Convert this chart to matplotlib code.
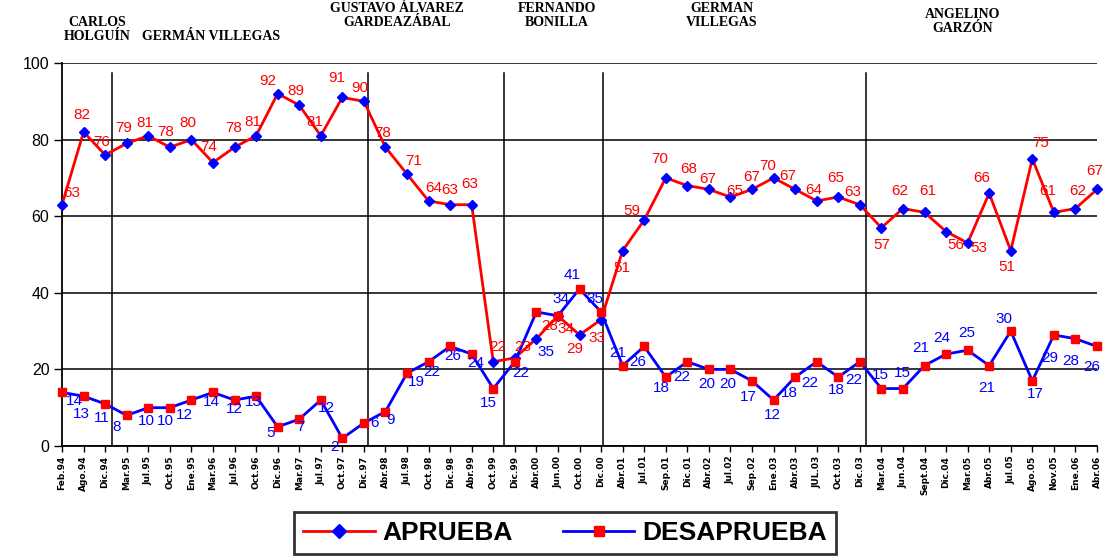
import numpy as np
import matplotlib
matplotlib.use("Agg")
import matplotlib.pyplot as plt
from matplotlib.lines import Line2D

# fechas de las encuestas
fechas = ["Feb.94", "Ago.94", "Dic.94", "Mar.95", "Jul.95", "Oct.95", "Ene.95",
          "Mar.96", "Jul.96", "Oct.96", "Dic.96", "Mar.97", "Jul.97", "Oct.97",
          "Dic.97", "Abr.98", "Jul.98", "Oct.98", "Dic.98", "Abr.99", "Oct.99",
          "Dic.99", "Abr.00", "Jun.00", "Oct.00", "Dic.00", "Abr.01", "Jul.01",
          "Sep.01", "Dic.01", "Abr.02", "Jul.02", "Sep.02", "Ene.03", "Abr.03",
          "JUL.03", "Oct.03", "Dic.03", "Mar.04", "Jun.04", "Sept.04", "Dic.04",
          "Mar.05", "Abr.05", "Jul.05", "Ago.05", "Nov.05", "Ene.06", "Abr.06"]

aprueba = [63, 82, 76, 79, 81, 78, 80, 74, 78, 81, 92, 89, 81, 91, 90,
           78, 71, 64, 63, 63, 22, 23, 28, 34, 29, 33, 51, 59, 70, 68,
           67, 65, 67, 70, 67, 64, 65, 63, 57, 62, 61, 56, 53, 66, 51,
           75, 61, 62, 67]

desaprueba = [14, 13, 11, 8, 10, 10, 12, 14, 12, 13, 5, 7, 12, 2, 6,
              9, 19, 22, 26, 24, 15, 22, 35, 34, 41, 35, 21, 26, 18, 22,
              20, 20, 17, 12, 18, 22, 18, 22, 15, 15, 21, 24, 25, 21, 30,
              17, 29, 28, 26]

# alcaldes y donde empieza cada periodo (posicion entre fechas)
alcaldes = ["CARLOS\nHOLGUÍN", "GERMÁN VILLEGAS", "GUSTAVO ÁLVAREZ\nGARDEAZÁBAL",
            "FERNANDO\nBONILLA", "GERMAN\nVILLEGAS", "ANGELINO\nGARZÓN"]
cortes = [2.33, 14.2, 20.5, 25.1, 37.3]

# desplazamiento de las etiquetas en pixeles (dx, dy hacia abajo)
off_apr = [(10, -12), (-2, -17), (-3, -13), (-3, -15), (-3, -13), (-4, -15), (-4, -17),
           (-4, -16), (-1, -19), (-3, -14), (-10, -13), (-3, -14), (-6, -14), (-6, -19),
           (-4, -13), (-3, -14), (7, -13), (5, -13), (0, -15), (-2, -21), (5, -15),
           (8, -11), (13, -13), (8, 13), (-5, 14), (-4, 18), (-1, 17), (-12, -9),
           (-6, -19), (1, -17), (-1, -10), (4, -6), (0, -12), (-6, -12), (-7, -13),
           (-3, -11), (-3, -19), (-7, -13), (0, 17), (-3, -18), (3, -21), (10, 13),
           (11, 5), (-7, -15), (-4, 16), (8, -16), (-6, -21), (2, -18), (-2, -18)]
off_des = [(12, 9), (-2, 18), (-3, 14), (-10, 12), (-2, 13), (-4, 13), (-7, 15),
           (-2, 10), (0, 9), (-3, 6), (-7, 6), (1, 8), (6, 8), (-8, 9), (11, 0),
           (5, 8), (9, 9), (3, 10), (3, 10), (4, 9), (-5, 14), (6, 11), (10, 40),
           (3, -17), (-7, -14), (-6, -13), (-5, -13), (-6, 16), (-4, 11), (-6, 15),
           (-2, 15), (-3, 15), (-4, 16), (-1, 15), (-6, 16), (-7, 21), (-2, 13),
           (-6, 18), (-1, -14), (-1, -16), (-4, -18), (-4, -16), (-1, -17), (-2, 22),
           (-7, -12), (3, 13), (-4, 23), (-5, 22), (-5, 21)]

RED = "#ff0000"
BLUE = "#0000ff"

fig = plt.figure(figsize=(11.07, 5.6), dpi=100)
ax = fig.add_axes([62 / 1107, 114 / 560, 1035 / 1107, 383 / 560])

x = np.arange(len(fechas))

ax.plot(x, aprueba, color=RED, lw=2, marker="D", ms=5.5, mfc=BLUE, mec=BLUE,
        clip_on=False, zorder=4)
ax.plot(x, desaprueba, color=BLUE, lw=2, marker="s", ms=5.5, mfc=RED, mec=RED,
        clip_on=False, zorder=5)

for i in range(len(x)):
    dx, dy = off_apr[i]
    ax.annotate(str(aprueba[i]), (x[i], aprueba[i]), xytext=(dx, -dy),
                textcoords="offset pixels", ha="center", va="center",
                color=RED, fontsize=11, family="Liberation Sans", zorder=6,
                annotation_clip=False)
    dx, dy = off_des[i]
    ax.annotate(str(desaprueba[i]), (x[i], desaprueba[i]), xytext=(dx, -dy),
                textcoords="offset pixels", ha="center", va="center",
                color=BLUE, fontsize=11, family="Liberation Sans", zorder=6,
                annotation_clip=False)

for c in cortes:
    ax.plot([c, c], [0, 97.5], color="black", lw=1.1, zorder=2)

ax.set_xlim(0, len(fechas) - 1)
ax.set_ylim(0, 100)
ax.set_yticks(np.arange(0, 101, 20))
ax.set_yticklabels([str(v) for v in range(0, 101, 20)], fontsize=11.5,
                   family="Liberation Sans")
ax.yaxis.grid(True, color="black", lw=1.1)
ax.set_axisbelow(True)
ax.set_xticks(x)
ax.set_xticklabels(fechas, rotation=90, fontsize=6.5, fontweight="bold",
                   family=["Liberation Sans Narrow", "DejaVu Sans"])
ax.tick_params(axis="x", length=4, width=1, pad=3)
ax.tick_params(axis="y", length=6, width=1, pad=3)
for s in ["top", "right"]:
    ax.spines[s].set_visible(False)
for s in ["left", "bottom"]:
    ax.spines[s].set_linewidth(1.3)

# encabezados con los nombres
pos_alc = [(97, 29), (211, 36), (397, 16), (557, 16), (722, 16), (963, 22)]
for nombre, (px, py) in zip(alcaldes, pos_alc):
    fig.text(px / 1107, 1 - py / 560, nombre, ha="center", va="center",
             fontsize=10, fontweight="bold", family="Liberation Serif",
             linespacing=1.1)

handles = [Line2D([], [], color=RED, lw=2, marker="D", ms=7, mfc=BLUE, mec=BLUE),
           Line2D([], [], color=BLUE, lw=2, marker="s", ms=7, mfc=RED, mec=RED)]
leg = fig.legend(handles, ["APRUEBA", "DESAPRUEBA"], loc="center",
                 bbox_to_anchor=(565 / 1107, 1 - 533 / 560), ncol=2,
                 prop={"family": "Liberation Sans", "weight": "bold", "size": 19},
                 frameon=True, fancybox=False, edgecolor="black",
                 handlelength=2.7, handletextpad=0.3, columnspacing=1.9,
                 borderpad=0.35, borderaxespad=0)
leg.get_frame().set_linewidth(2)

fig.savefig("out.png", dpi=100)
